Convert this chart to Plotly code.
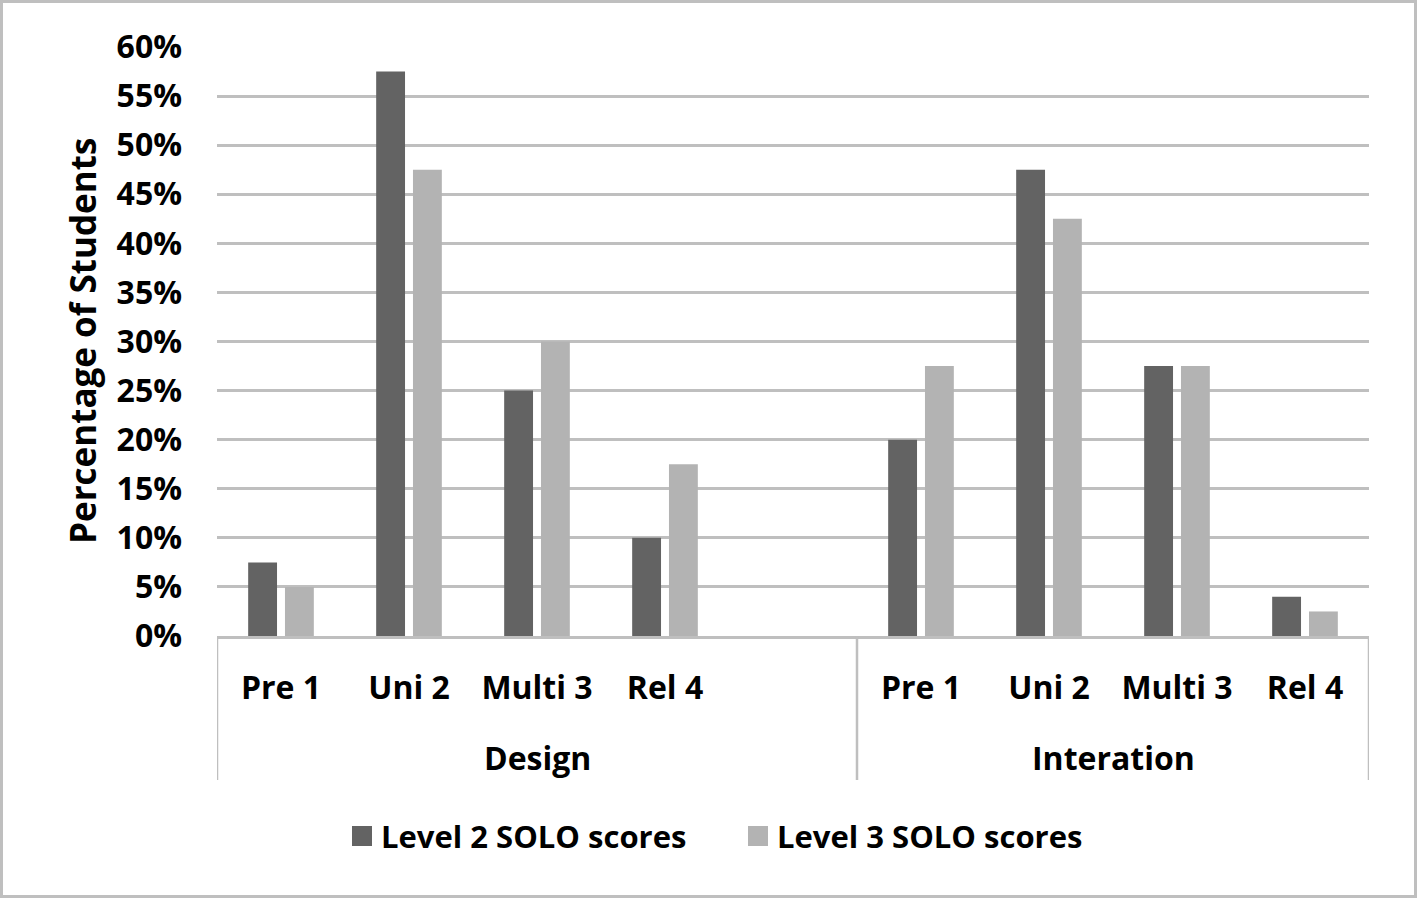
import plotly.graph_objects as go

# ---- data ----
groups = ["Design", "Interation"]
categories = ["Pre 1", "Uni 2", "Multi 3", "Rel 4"]
level2_design = [7.5, 57.5, 25, 10]
level3_design = [5, 47.5, 30, 17.5]
level2_interation = [20, 47.5, 27.5, 4]
level3_interation = [27.5, 42.5, 27.5, 2.5]
series_names = ["Level 2 SOLO scores", "Level 3 SOLO scores"]
y_ticks = list(range(0, 61, 5))

# slot positions: Design occupies 5 slots (last empty), Interation 4 slots
design_slots = 5
design_pos = list(range(len(categories)))
inter_pos = [design_slots + i for i in range(len(categories))]
x_pos = design_pos + inter_pos
n_slots = design_slots + len(categories)

FONT = "Open Sans"
FS = 32
GRID = "#bfbfbf"
DARK = "#636363"
LIGHT = "#b3b3b3"
colors = [DARK, LIGHT]

fig = go.Figure()
fig.add_trace(go.Bar(x=x_pos, y=level2_design + level2_interation,
                     name=series_names[0], marker_color=DARK, marker_line_width=0))
fig.add_trace(go.Bar(x=x_pos, y=level3_design + level3_interation,
                     name=series_names[1], marker_color=LIGHT, marker_line_width=0))

W, H = 1418, 899
L, R, T, B = 217, 49, 47, 263
ph = H - T - B
pw = W - L - R

def py(pix):
    return (H - B - pix) / ph

def px(pix):
    return (pix - L) / pw

bold = lambda s: dict(family=FONT, size=s, color="black", weight="bold")

shapes = []
# group dividers
for xv in [-0.5, design_slots - 0.5, n_slots - 0.5]:
    shapes.append(dict(type="line", xref="x", yref="paper", x0=xv, x1=xv,
                       y0=0, y1=py(780), line=dict(color=GRID, width=2.5)))
# outer border
shapes.append(dict(type="rect", xref="paper", yref="paper",
                   x0=px(1.5), x1=px(1415.5), y0=py(896.5), y1=py(1.5),
                   line=dict(color=GRID, width=3), fillcolor="rgba(0,0,0,0)", layer="below"))

annotations = []
group_centers = [(design_slots - 1) / 2, (inter_pos[0] + inter_pos[-1]) / 2]
for g, c in zip(groups, group_centers):
    annotations.append(dict(x=c, y=py(757), xref="x", yref="paper", text=g,
                            showarrow=False, xanchor="center", yanchor="middle",
                            font=bold(FS)))
annotations.append(dict(x=px(82), y=py(341), xref="paper", yref="paper",
                        text="Percentage of Students", textangle=-90, showarrow=False,
                        xanchor="center", yanchor="middle", font=bold(35)))

# legend (manual, to match square swatches)
legend_sq_left = [352, 748]
for name, col, lx in zip(series_names, colors, legend_sq_left):
    shapes.append(dict(type="rect", xref="paper", yref="paper",
                       x0=px(lx), x1=px(lx + 20), y0=py(846), y1=py(826),
                       fillcolor=col, line=dict(width=0)))
    annotations.append(dict(x=px(lx + 27), y=py(836), xref="paper", yref="paper",
                            text=name, showarrow=False, xanchor="left", yanchor="middle",
                            font=bold(31)))

fig.update_layout(
    width=W, height=H,
    margin=dict(l=L, r=R, t=T, b=B, autoexpand=False),
    paper_bgcolor="white", plot_bgcolor="white",
    barmode="group", bargap=0.425, bargroupgap=0.216,
    showlegend=False,
    xaxis=dict(range=[-0.5, n_slots - 0.5], tickvals=x_pos,
               ticktext=categories + categories, ticks="", ticklabelstandoff=22,
               tickfont=bold(FS),
               showgrid=False, zeroline=False, showline=True, linecolor=GRID,
               linewidth=2.5, fixedrange=True),
    yaxis=dict(range=[0, 60], tickvals=y_ticks, ticktext=[f"{v}%" for v in y_ticks],
               ticks="", ticklabelstandoff=34,
               tickfont=bold(FS),
               showgrid=True, gridcolor=GRID, gridwidth=2.5, zeroline=False,
               showline=False, fixedrange=True),
    shapes=shapes, annotations=annotations,
    font=dict(family=FONT, color="black"),
)

fig.write_html("out.html", config={"displayModeBar": False},
               post_script="document.body.style.margin='0';document.body.style.overflow='hidden';")
